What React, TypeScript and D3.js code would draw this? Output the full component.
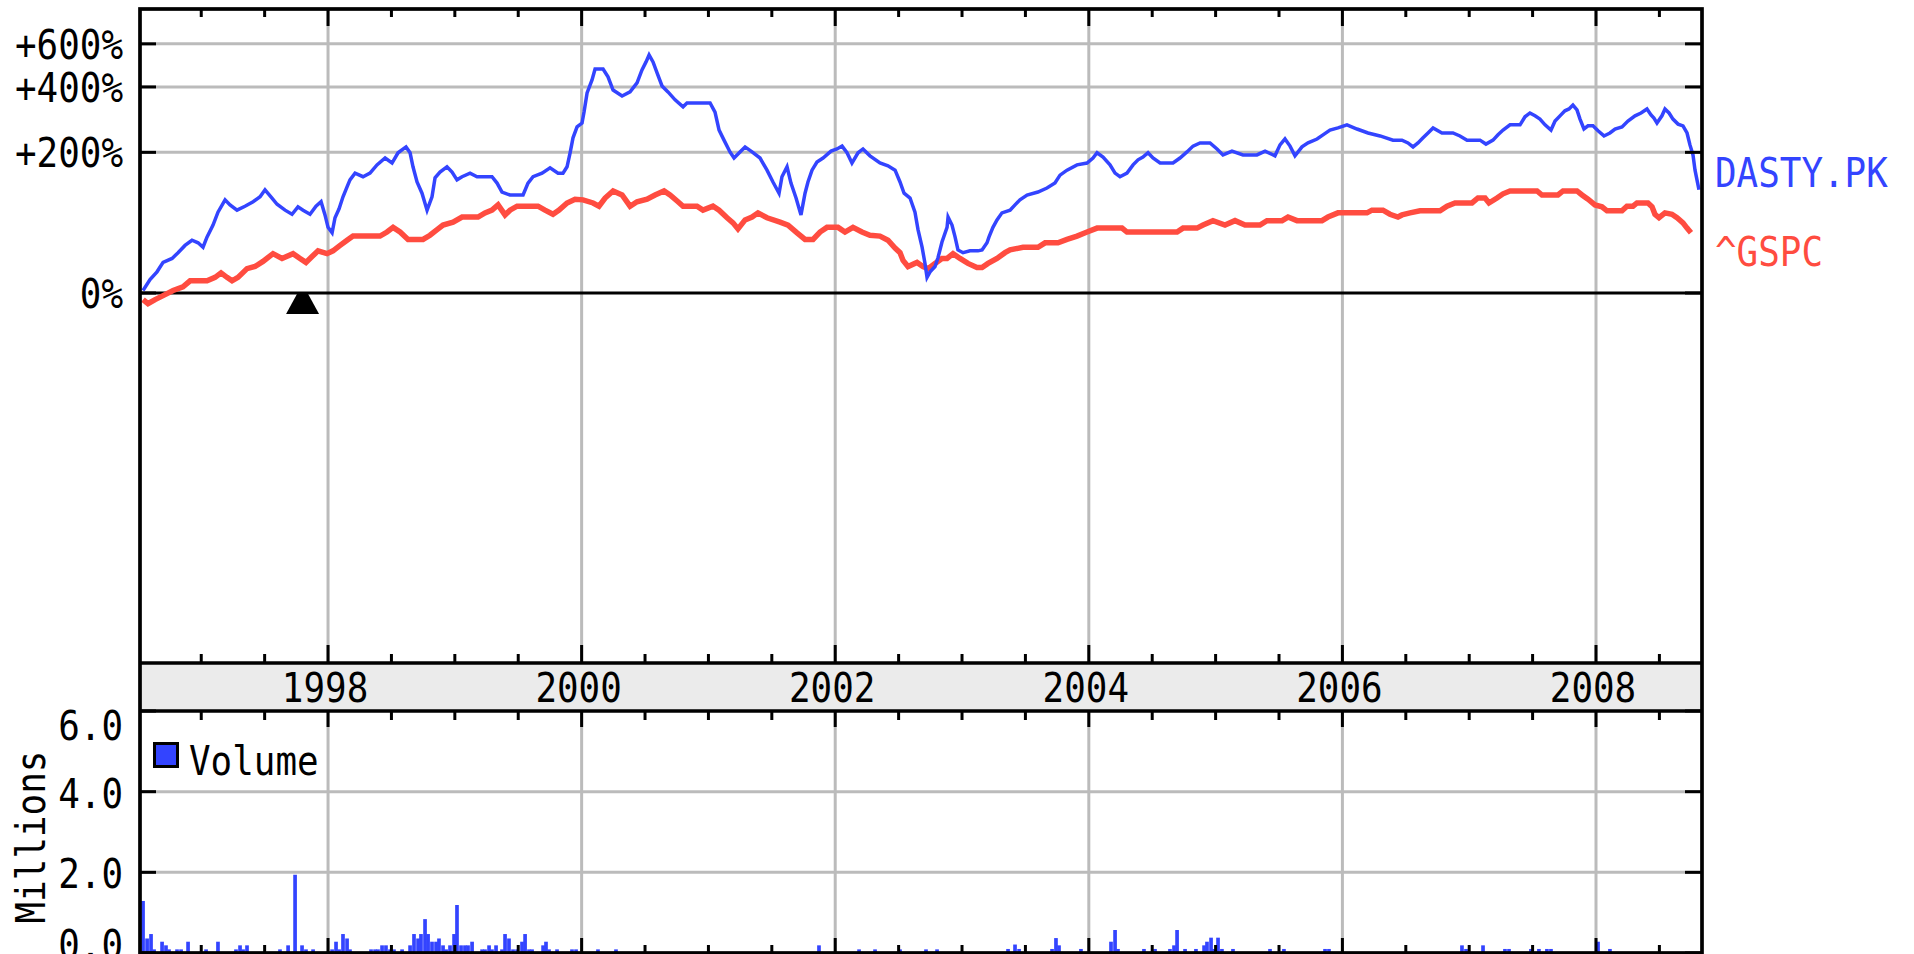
import React from 'react';
import * as d3 from 'd3';

// ---------- data ----------
// DASTY.PK: [decimal year, % change since start]
const dasty: [number, number][] = [
  [1996.541, 2], [1996.596, 11], [1996.651, 18], [1996.699, 27], [1996.770, 31], [1996.817, 37],
  [1996.872, 45], [1996.927, 51], [1996.975, 48], [1997.014, 43], [1997.046, 55], [1997.093, 70],
  [1997.132, 88], [1997.188, 107], [1997.227, 99], [1997.282, 91], [1997.345, 97], [1997.409, 104],
  [1997.464, 112], [1997.503, 124], [1997.558, 110], [1997.598, 100], [1997.661, 91], [1997.716, 85],
  [1997.763, 96], [1997.803, 91], [1997.858, 85], [1997.905, 97], [1997.945, 104], [1997.976, 84],
  [1998.000, 67], [1998.032, 60], [1998.055, 80], [1998.087, 93], [1998.118, 112], [1998.150, 129],
  [1998.173, 142], [1998.213, 155], [1998.276, 148], [1998.331, 155], [1998.386, 172], [1998.450, 187],
  [1998.505, 176], [1998.552, 199], [1998.615, 213], [1998.647, 199], [1998.670, 168], [1998.702, 138],
  [1998.741, 118], [1998.781, 91], [1998.820, 112], [1998.844, 146], [1998.883, 157], [1998.938, 168],
  [1998.978, 157], [1999.017, 142], [1999.057, 148], [1999.120, 155], [1999.175, 148], [1999.293, 148],
  [1999.333, 136], [1999.372, 120], [1999.435, 115], [1999.538, 115], [1999.577, 136], [1999.617, 148],
  [1999.688, 155], [1999.751, 166], [1999.814, 155], [1999.853, 155], [1999.885, 168], [1999.909, 199],
  [1999.932, 236], [1999.964, 266], [2000.003, 277], [2000.019, 311], [2000.043, 377], [2000.082, 428],
  [2000.106, 475], [2000.169, 475], [2000.208, 441], [2000.248, 388], [2000.319, 366], [2000.382, 381],
  [2000.437, 416], [2000.476, 471], [2000.508, 508], [2000.532, 542], [2000.563, 508], [2000.595, 458],
  [2000.634, 404], [2000.681, 381], [2000.737, 352], [2000.800, 328], [2000.831, 341], [2001.013, 341],
  [2001.052, 311], [2001.084, 257], [2001.123, 230], [2001.170, 201], [2001.202, 187], [2001.249, 201],
  [2001.289, 213], [2001.344, 201], [2001.407, 187], [2001.462, 161], [2001.509, 138], [2001.557, 118],
  [2001.580, 148], [2001.620, 168], [2001.651, 136], [2001.691, 110], [2001.730, 84], [2001.762, 118],
  [2001.785, 138], [2001.817, 161], [2001.856, 178], [2001.904, 187], [2001.967, 203], [2002.014, 208],
  [2002.054, 215], [2002.093, 199], [2002.132, 176], [2002.180, 199], [2002.219, 208], [2002.274, 192],
  [2002.353, 176], [2002.416, 170], [2002.472, 161], [2002.511, 138], [2002.543, 118], [2002.590, 110],
  [2002.629, 88], [2002.653, 64], [2002.685, 43], [2002.708, 26], [2002.724, 13], [2002.748, 18],
  [2002.787, 23], [2002.811, 32], [2002.842, 49], [2002.882, 67], [2002.890, 81], [2002.921, 70],
  [2002.945, 55], [2002.968, 40], [2003.008, 37], [2003.063, 39], [2003.126, 39], [2003.158, 40],
  [2003.197, 48], [2003.213, 55], [2003.244, 67], [2003.276, 77], [2003.315, 87], [2003.379, 91],
  [2003.418, 99], [2003.457, 107], [2003.513, 115], [2003.599, 120], [2003.670, 127], [2003.733, 136],
  [2003.773, 151], [2003.828, 161], [2003.907, 172], [2003.986, 176], [2004.033, 187], [2004.065, 199],
  [2004.112, 189], [2004.167, 172], [2004.207, 155], [2004.246, 148], [2004.301, 155], [2004.349, 172],
  [2004.388, 183], [2004.427, 189], [2004.467, 199], [2004.506, 187], [2004.562, 176], [2004.664, 176],
  [2004.719, 187], [2004.774, 201], [2004.822, 215], [2004.877, 223], [2004.956, 223], [2005.011, 208],
  [2005.058, 194], [2005.129, 203], [2005.216, 194], [2005.326, 194], [2005.390, 203], [2005.468, 192],
  [2005.508, 218], [2005.547, 233], [2005.587, 215], [2005.626, 192], [2005.681, 213], [2005.729, 223],
  [2005.800, 233], [2005.847, 244], [2005.902, 257], [2005.965, 263], [2006.036, 272], [2006.115, 260],
  [2006.202, 249], [2006.297, 241], [2006.399, 230], [2006.470, 230], [2006.517, 223], [2006.557, 213],
  [2006.596, 223], [2006.636, 236], [2006.675, 249], [2006.715, 263], [2006.785, 249], [2006.872, 249],
  [2006.927, 241], [2006.983, 230], [2007.085, 230], [2007.132, 220], [2007.188, 230], [2007.227, 244],
  [2007.267, 257], [2007.322, 272], [2007.401, 272], [2007.440, 296], [2007.479, 308], [2007.519, 299],
  [2007.558, 289], [2007.598, 272], [2007.645, 257], [2007.677, 283], [2007.716, 299], [2007.755, 315],
  [2007.787, 321], [2007.818, 334], [2007.850, 318], [2007.874, 289], [2007.905, 260], [2007.937, 269],
  [2007.976, 269], [2008.016, 255], [2008.063, 241], [2008.110, 249], [2008.150, 260], [2008.205, 266],
  [2008.252, 283], [2008.308, 299], [2008.355, 308], [2008.402, 321], [2008.434, 302], [2008.457, 292],
  [2008.481, 277], [2008.520, 299], [2008.544, 321], [2008.576, 308], [2008.607, 289], [2008.647, 274],
  [2008.686, 269], [2008.718, 249], [2008.741, 218], [2008.765, 194], [2008.781, 161], [2008.804, 133],
  [2008.812, 124],
];

// ^GSPC: [decimal year, % change since start]
const gspc: [number, number][] = [
  [1996.541, -5], [1996.580, -8], [1996.636, -5], [1996.699, -2], [1996.778, 2], [1996.856, 5],
  [1996.912, 10], [1997.046, 10], [1997.109, 13], [1997.156, 17], [1997.203, 13], [1997.243, 10],
  [1997.290, 13], [1997.361, 21], [1997.424, 23], [1997.487, 28], [1997.566, 36], [1997.637, 31],
  [1997.724, 36], [1997.779, 31], [1997.826, 27], [1997.874, 33], [1997.921, 39], [1997.992, 36],
  [1998.039, 39], [1998.095, 45], [1998.150, 51], [1998.197, 56], [1998.410, 56], [1998.465, 61],
  [1998.513, 67], [1998.568, 61], [1998.631, 52], [1998.749, 52], [1998.804, 57], [1998.860, 64],
  [1998.907, 70], [1998.986, 74], [1999.057, 81], [1999.183, 81], [1999.238, 87], [1999.293, 91],
  [1999.341, 99], [1999.396, 84], [1999.435, 91], [1999.491, 97], [1999.656, 97], [1999.711, 91],
  [1999.774, 85], [1999.822, 91], [1999.885, 102], [1999.948, 108], [2000.011, 107], [2000.090, 102],
  [2000.137, 97], [2000.185, 110], [2000.248, 122], [2000.319, 115], [2000.382, 97], [2000.437, 104],
  [2000.516, 108], [2000.579, 115], [2000.650, 122], [2000.697, 115], [2000.760, 104], [2000.800, 97],
  [2000.910, 97], [2000.957, 91], [2001.036, 97], [2001.084, 91], [2001.147, 80], [2001.194, 73],
  [2001.233, 65], [2001.289, 77], [2001.344, 81], [2001.391, 87], [2001.462, 80], [2001.565, 74],
  [2001.628, 70], [2001.699, 60], [2001.762, 52], [2001.825, 52], [2001.880, 61], [2001.935, 67],
  [2002.022, 67], [2002.077, 61], [2002.140, 67], [2002.211, 61], [2002.274, 57], [2002.353, 56],
  [2002.416, 51], [2002.472, 42], [2002.511, 37], [2002.535, 29], [2002.574, 23], [2002.645, 27],
  [2002.692, 23], [2002.732, 21], [2002.787, 26], [2002.842, 31], [2002.882, 31], [2002.929, 36],
  [2002.984, 31], [2003.047, 26], [2003.118, 22], [2003.158, 22], [2003.205, 26], [2003.276, 31],
  [2003.339, 37], [2003.379, 40], [2003.481, 43], [2003.599, 43], [2003.655, 48], [2003.757, 48],
  [2003.828, 52], [2003.907, 56], [2003.986, 61], [2004.065, 66], [2004.262, 66], [2004.301, 61],
  [2004.696, 61], [2004.743, 66], [2004.853, 66], [2004.901, 70], [2004.979, 76], [2005.074, 70],
  [2005.153, 76], [2005.232, 70], [2005.350, 70], [2005.405, 76], [2005.524, 76], [2005.571, 81],
  [2005.642, 76], [2005.839, 76], [2005.886, 81], [2005.965, 87], [2006.194, 87], [2006.233, 91],
  [2006.320, 91], [2006.375, 85], [2006.438, 81], [2006.470, 84], [2006.533, 87], [2006.612, 90],
  [2006.770, 90], [2006.825, 97], [2006.888, 102], [2007.022, 102], [2007.069, 110], [2007.125, 110],
  [2007.156, 102], [2007.219, 110], [2007.267, 117], [2007.322, 122], [2007.535, 122], [2007.574, 115],
  [2007.700, 115], [2007.740, 122], [2007.850, 122], [2007.890, 115], [2007.937, 108], [2007.992, 99],
  [2008.047, 96], [2008.087, 90], [2008.205, 90], [2008.244, 97], [2008.292, 97], [2008.323, 102],
  [2008.410, 102], [2008.442, 96], [2008.465, 85], [2008.497, 80], [2008.544, 87], [2008.599, 85],
  [2008.639, 80], [2008.686, 73], [2008.718, 66], [2008.749, 60],
];

// Volume (millions of shares): [decimal year, volume]
const volume: [number, number][] = [
  [1996.541, 1.29], [1996.573, 0.36], [1996.604, 0.47], [1996.628, 0.09], [1996.691, 0.28],
  [1996.722, 0.19], [1996.746, 0.09], [1996.809, 0.09], [1996.841, 0.09], [1996.896, 0.28],
  [1997.038, 0.09], [1997.132, 0.28], [1997.274, 0.09], [1997.306, 0.19], [1997.330, 0.09],
  [1997.361, 0.19], [1997.621, 0.09], [1997.685, 0.19], [1997.740, 1.94], [1997.795, 0.19],
  [1997.826, 0.09], [1997.882, 0.09], [1998.032, 0.09], [1998.063, 0.28], [1998.087, 0.09],
  [1998.118, 0.47], [1998.150, 0.36], [1998.173, 0.09], [1998.339, 0.09], [1998.371, 0.09],
  [1998.394, 0.09], [1998.426, 0.19], [1998.457, 0.19], [1998.489, 0.09], [1998.520, 0.09],
  [1998.584, 0.09], [1998.647, 0.19], [1998.678, 0.47], [1998.710, 0.36], [1998.733, 0.47],
  [1998.765, 0.84], [1998.789, 0.47], [1998.820, 0.28], [1998.852, 0.28], [1998.875, 0.36],
  [1998.907, 0.19], [1998.931, 0.09], [1998.962, 0.19], [1998.994, 0.47], [1999.017, 1.19],
  [1999.049, 0.19], [1999.080, 0.19], [1999.104, 0.19], [1999.136, 0.28], [1999.215, 0.09],
  [1999.238, 0.09], [1999.270, 0.19], [1999.293, 0.09], [1999.325, 0.19], [1999.372, 0.09],
  [1999.396, 0.47], [1999.427, 0.36], [1999.459, 0.09], [1999.491, 0.09], [1999.530, 0.28],
  [1999.554, 0.47], [1999.585, 0.09], [1999.609, 0.09], [1999.696, 0.19], [1999.719, 0.28],
  [1999.743, 0.09], [1999.806, 0.09], [1999.924, 0.09], [1999.956, 0.09], [2000.129, 0.09],
  [2000.271, 0.09], [2001.872, 0.19], [2002.188, 0.09], [2002.314, 0.09], [2002.511, 0.09],
  [2002.716, 0.09], [2002.803, 0.09], [2003.363, 0.1], [2003.418, 0.21], [2003.450, 0.1],
  [2003.710, 0.1], [2003.741, 0.37], [2003.765, 0.19], [2003.938, 0.1], [2004.175, 0.28],
  [2004.207, 0.57], [2004.230, 0.1], [2004.435, 0.1], [2004.522, 0.1], [2004.640, 0.1],
  [2004.672, 0.19], [2004.696, 0.57], [2004.759, 0.1], [2004.845, 0.1], [2004.909, 0.19],
  [2004.932, 0.28], [2004.964, 0.38], [2004.987, 0.1], [2005.019, 0.38], [2005.050, 0.1],
  [2005.137, 0.1], [2005.429, 0.1], [2005.539, 0.1], [2005.863, 0.1], [2005.894, 0.1],
  [2006.943, 0.19], [2006.975, 0.1], [2007.109, 0.19], [2007.282, 0.1], [2007.314, 0.1],
  [2007.487, 0.1], [2007.550, 0.1], [2007.613, 0.1], [2007.645, 0.1], [2008.016, 0.28],
  [2008.110, 0.1],
];

const eventYears = [1997.799];
const seriesNames = ['DASTY.PK', '^GSPC'];
const seriesColors = ['#3344ff', '#ff4c40'];
const xDomain: [number, number] = [1996.517, 2008.836];
const pctDomain: [number, number] = [-94.44, 819];
const pctTicks = [0, 200, 400, 600];
const pctTickLabels = ['0%', '+200%', '+400%', '+600%'];
const volDomain: [number, number] = [0, 6];
const volTicks = [0, 2, 4, 6];
const volTickLabels = ['0.0', '2.0', '4.0', '6.0'];
const yearLabels = [1998, 2000, 2002, 2004, 2006, 2008];
const volumeLabel = 'Volume';
const volumeAxisTitle = 'Millions';

// ---------- layout ----------
const W = 1914, H = 954;
const L = 140, R = 1702, TOP = 9, MB = 663, BB = 711, VB = 953;
const FONT = "'DejaVu Sans Mono', monospace";
const CHAR_W = 21.6;
const GRID = '#bbbbbb';

const Txt = ({ x, y, s, anchor = 'start', fill = '#000', transform }: any) => (
  <text x={x} y={y} textAnchor={anchor} fontFamily={FONT} fontSize={40} fill={fill}
    textLength={s.length * CHAR_W} lengthAdjust="spacingAndGlyphs" transform={transform}>{s}</text>
);

export default function App() {
  const x = d3.scaleLinear().domain(xDomain).range([L, R]);
  const yLog = d3.scaleLog().domain([1 + pctDomain[0] / 100, 1 + pctDomain[1] / 100]).range([MB, TOP]);
  const yp = (p: number) => yLog(1 + p / 100);
  const yv = d3.scaleLinear().domain(volDomain).range([VB, BB]);
  const line = d3.line<[number, number]>().x(d => x(d[0])).y(d => yp(d[1]));
  const ticks = d3.range(Math.ceil(xDomain[0] * 2) / 2, xDomain[1], 0.5);
  const isMajor = (t: number) => Math.abs(t % 2) < 1e-6;
  const barW = x(xDomain[0] + 0.029) - x(xDomain[0]);

  return (
    <svg width={W} height={H} style={{ position: 'absolute', left: 0, top: 0, background: '#fff' }}>
      <defs>
        <clipPath id="mainClip"><rect x={L} y={TOP} width={R - L} height={MB - TOP} /></clipPath>
      </defs>
      <rect x={0} y={0} width={W} height={H} fill="#fff" />
      {/* band */}
      <rect x={L} y={MB} width={R - L} height={BB - MB} fill="#ebebeb" />

      {/* vertical gridlines */}
      {ticks.filter(isMajor).map(t => (
        <g key={'vg' + t}>
          <line x1={x(t)} x2={x(t)} y1={TOP} y2={MB} stroke={GRID} strokeWidth={3} />
          <line x1={x(t)} x2={x(t)} y1={BB} y2={VB} stroke={GRID} strokeWidth={3} />
        </g>
      ))}
      {/* horizontal gridlines main */}
      {pctTicks.filter(p => p !== 0).map(p => (
        <line key={'hg' + p} x1={L} x2={R} y1={yp(p)} y2={yp(p)} stroke={GRID} strokeWidth={3} />
      ))}
      {/* horizontal gridlines volume */}
      {volTicks.filter(v => v !== 0 && v !== volDomain[1]).map(v => (
        <line key={'vhg' + v} x1={L} x2={R} y1={yv(v)} y2={yv(v)} stroke={GRID} strokeWidth={3} />
      ))}

      {/* zero line */}
      <line x1={L} x2={R} y1={yp(0)} y2={yp(0)} stroke="#000" strokeWidth={3} />

      {/* series */}
      <g clipPath="url(#mainClip)">
        <path d={line(gspc) || ''} fill="none" stroke={seriesColors[1]} strokeWidth={5.5} strokeLinejoin="miter" />
        <path d={line(dasty) || ''} fill="none" stroke={seriesColors[0]} strokeWidth={3.5} strokeLinejoin="miter" />
      </g>

      {/* event marker */}
      {eventYears.map(t => {
        const cx = x(t), y0 = yp(0);
        return <polygon key={'ev' + t} fill="#000"
          points={`${cx - 5},${y0} ${cx + 5},${y0} ${cx + 16.5},${y0 + 21} ${cx - 16.5},${y0 + 21}`} />;
      })}

      {/* volume bars */}
      {volume.map(([t, v]) => (
        <rect key={'vb' + t} x={x(t) - barW / 2} y={yv(v)} width={barW} height={VB - yv(v)} fill={seriesColors[0]} />
      ))}

      {/* ticks on x edges */}
      {ticks.map(t => {
        const major = isMajor(t);
        const xx = x(t);
        return (
          <g key={'xt' + t} stroke="#000" strokeWidth={3}>
            <line x1={xx} x2={xx} y1={TOP} y2={TOP + (major ? 17 : 8)} />
            <line x1={xx} x2={xx} y1={MB} y2={MB - (major ? 18 : 9)} />
            <line x1={xx} x2={xx} y1={BB} y2={BB + (major ? 16 : 9)} />
            <line x1={xx} x2={xx} y1={VB} y2={VB - (major ? 15 : 8)} />
          </g>
        );
      })}
      {/* y ticks */}
      {pctTicks.map(p => (
        <g key={'yt' + p} stroke="#000" strokeWidth={3}>
          <line x1={L} x2={L + 16} y1={yp(p)} y2={yp(p)} />
          <line x1={R - 17} x2={R} y1={yp(p)} y2={yp(p)} />
        </g>
      ))}
      {volTicks.map(v => (
        <g key={'vt' + v} stroke="#000" strokeWidth={3}>
          <line x1={L} x2={L + 16} y1={yv(v)} y2={yv(v)} />
          <line x1={R - 17} x2={R} y1={yv(v)} y2={yv(v)} />
        </g>
      ))}

      {/* frames */}
      <g fill="none" stroke="#000" strokeWidth={3.7}>
        <rect x={L} y={TOP} width={R - L} height={VB - TOP} />
        <line x1={L} x2={R} y1={MB} y2={MB} />
        <line x1={L} x2={R} y1={BB} y2={BB} />
      </g>

      {/* y labels */}
      {pctTicks.map((p, i) => (
        <Txt key={'yl' + p} x={123} y={yp(p) + 15} s={pctTickLabels[i]} anchor="end" />
      ))}
      {volTicks.map((v, i) => {
        const off = v === volDomain[1] ? 29 : v === 0 ? 6 : 16;
        return <Txt key={'vl' + v} x={123} y={yv(v) + off} s={volTickLabels[i]} anchor="end" />;
      })}
      <Txt x={0} y={0} s={volumeAxisTitle} anchor="middle" transform={`translate(45,837) rotate(-90)`} />

      {/* year labels */}
      {yearLabels.map(yr => (
        <Txt key={'yr' + yr} x={x(yr) - 3} y={702} s={String(yr)} anchor="middle" />
      ))}

      {/* series labels */}
      <Txt x={1715} y={187} s={seriesNames[0]} fill={seriesColors[0]} />
      <Txt x={1715} y={266} s={seriesNames[1]} fill={seriesColors[1]} />

      {/* volume legend */}
      <rect x={154.5} y={743.5} width={23} height={23} fill={seriesColors[0]} stroke="#000" strokeWidth={3} />
      <Txt x={189} y={775} s={volumeLabel} />
    </svg>
  );
}
